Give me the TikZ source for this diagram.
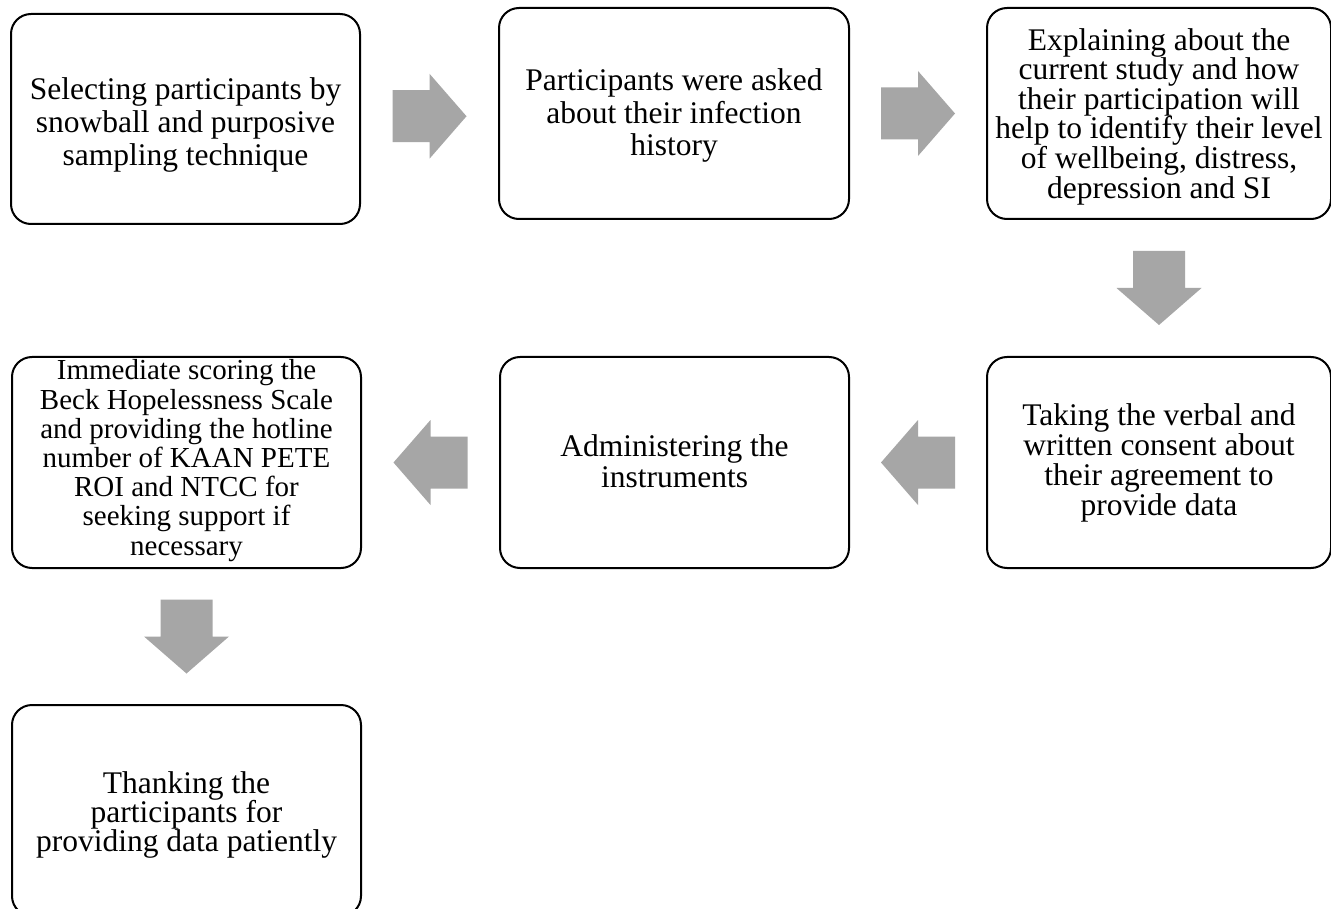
\documentclass[tikz,border=0pt]{standalone}
\usepackage{fontspec}
\setmainfont{Liberation Serif}
\usetikzlibrary{calc}
\definecolor{arrowgray}{HTML}{A6A6A6}
\tikzset{
  stepbox/.style={draw=black, line width=2pt, rounded corners=20pt, fill=white,
    inner sep=0pt, anchor=north west},
  steptext/.style={inner sep=0pt, align=center, text=black},
  blockarrow/.pic={
    \fill[arrowgray] (-37,-26) -- (0,-26) -- (0,-42.5) -- (37,0) -- (0,42.5) -- (0,26) -- (-37,26) -- cycle;
  }
}
\begin{document}
\begin{tikzpicture}[x=1pt, y=-1pt]
\useasboundingbox (0,0) rectangle (1331,909);
\clip (0,0) rectangle (1331,909);
\fill[white] (0,0) rectangle (1331,909);

% boxes
\node[stepbox, minimum width=349pt, minimum height=210pt] (b1) at (10,13) {};
\node[stepbox, minimum width=350pt, minimum height=211pt] (b2) at (498,7) {};
\node[stepbox, minimum width=344pt, minimum height=211pt] (b3) at (986,7) {};
\node[stepbox, minimum width=344pt, minimum height=211pt] (b6) at (986,356) {};
\node[stepbox, minimum width=349pt, minimum height=211pt] (b5) at (499,356) {};
\node[stepbox, minimum width=349pt, minimum height=211pt] (b4) at (11,356) {};
\node[stepbox, minimum width=349pt, minimum height=211pt] (b7) at (11,704) {};

% texts
\node[steptext, font={\fontsize{31.5}{32.7}\selectfont}] (t1) at ([yshift=-6pt]b1.center)
  {Selecting participants by\\snowball and purposive\\sampling technique};
\node[steptext, font={\fontsize{31.5}{32.7}\selectfont}] (t2) at ([yshift=-2pt]b2.center)
  {Participants were asked\\about their infection\\history};
\node[steptext, font={\fontsize{31.5}{29.6}\selectfont}] (t3) at ([yshift=-3pt]b3.center)
  {Explaining about the\\current study and how\\their participation will\\help to identify their level\\of wellbeing, distress,\\depression and SI};
\node[steptext, font={\fontsize{31.5}{30}\selectfont}] (t6) at (b6.center)
  {Taking the verbal and\\written consent about\\their agreement to\\provide data};
\node[steptext, font={\fontsize{31.5}{31}\selectfont}] (t5) at ([yshift=1pt]b5.center)
  {Administering the\\instruments};
\node[steptext, font={\fontsize{29}{29.2}\selectfont}] (t4) at ([yshift=2pt]b4.center)
  {Immediate scoring the\\Beck Hopelessness Scale\\and providing the hotline\\number of KAAN PETE\\ROI and NTCC for\\seeking support if\\necessary};
\node[steptext, font={\fontsize{31.5}{29}\selectfont}] (t7) at ([yshift=-4pt]b7.center)
  {Thanking the\\participants for\\providing data patiently};

% block arrows
\pic at ($(b1.east)!0.5!(b2.west)$) {blockarrow};
\pic at ($(b2.east)!0.5!(b3.west)$) {blockarrow};
\pic[rotate=-90] at ($(b3.south)!0.5!(b6.north)$) {blockarrow};
\pic[rotate=180] at ($(b6.west)!0.5!(b5.east)$) {blockarrow};
\pic[rotate=180] at ($(b5.west)!0.5!(b4.east)$) {blockarrow};
\pic[rotate=-90] at ($(b4.south)!0.5!(b7.north)$) {blockarrow};
\end{tikzpicture}
\end{document}
